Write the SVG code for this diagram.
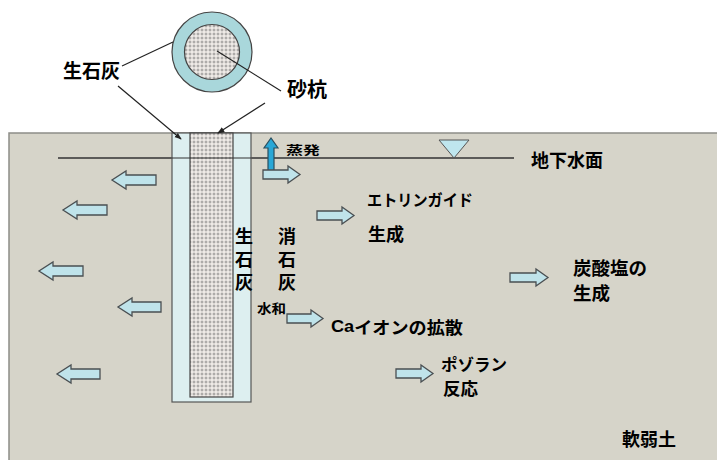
<svg xmlns="http://www.w3.org/2000/svg" width="717" height="460" viewBox="0 0 717 460">
  <style>
    .lbl { font-family: "Noto Sans CJK JP", "Liberation Sans", sans-serif; font-weight: 700; fill: #000; dominant-baseline: central; }
    .vert { font-family: "Noto Sans CJK JP", sans-serif; font-weight: 700; fill: #000; font-size: 18px; writing-mode: vertical-rl; letter-spacing: 5px; }
    .lat { font-family: "Liberation Sans", "Noto Sans CJK JP", sans-serif; }
    .arw { fill: #bfe3ea; stroke: #4a4f52; stroke-width: 1.3; stroke-linejoin: miter; }
    .lead { stroke: #222; stroke-width: 1.2; fill: none; }
  </style>
  <defs>
    <pattern id="sand" width="4" height="4" patternUnits="userSpaceOnUse">
      <rect width="4" height="4" fill="#eeeae6"/>
      <circle cx="2" cy="2" r="1" fill="none" stroke="#6f6f6f" stroke-width="0.6"/>
    </pattern>
    <marker id="tip" viewBox="0 0 8 8" refX="7" refY="4" markerWidth="6" markerHeight="6" orient="auto">
      <path d="M0,1 L8,4 L0,7 Z" fill="#222"/>
    </marker>
  </defs>

  <rect width="717" height="460" fill="#ffffff"/>

  <!-- ground -->
  <g id="ground">
    <rect x="9" y="133" width="712" height="332" fill="#d6d4c9" stroke="#8d8d88" stroke-width="1.5"/>
    <line x1="58" y1="158" x2="514" y2="158" stroke="#333" stroke-width="1.3"/>
    <polygon points="439,140 469,140 454,158" fill="#bfe6ee" stroke="#555" stroke-width="1"/>
    <text class="lbl" x="531" y="159" font-size="18">地下水面</text>
    <text class="lbl" x="622" y="438" font-size="18">軟弱土</text>
  </g>

  <!-- plan view of the pile -->
  <g id="plan">
    <circle cx="212" cy="52" r="40" fill="#a9d7db" stroke="#444" stroke-width="1.2"/>
    <circle cx="212" cy="52" r="27.5" fill="url(#sand)" stroke="#444" stroke-width="1.2"/>
    <text class="lbl" x="63" y="69" font-size="19">生石灰</text>
    <text class="lbl" x="287" y="88" font-size="20">砂杭</text>
  </g>

  <!-- section of the pile -->
  <g id="pile">
    <rect x="172" y="133" width="79" height="269" fill="#ddeff0" stroke="#555" stroke-width="1.2"/>
    <rect x="190" y="133" width="43" height="264" fill="url(#sand)" stroke="#444" stroke-width="1.2"/>
    <line x1="172" y1="158" x2="251" y2="158" stroke="#333" stroke-width="1.2"/>
  </g>

  <g id="labels">
    <text class="lbl" x="286" y="149" font-size="12" textLength="34" lengthAdjust="spacingAndGlyphs">蒸発</text>
    <text class="lbl" x="367" y="199" font-size="16" textLength="106" lengthAdjust="spacingAndGlyphs">エトリンガイド</text>
    <text class="lbl" x="368" y="233" font-size="18">生成</text>
    <text class="vert" x="244" y="227">生石灰</text>
    <text class="vert" x="287" y="227">消石灰</text>
    <text class="lbl" x="257" y="307" font-size="13" textLength="29" lengthAdjust="spacingAndGlyphs">水和</text>
    <text class="lbl" x="331" y="326" font-size="17" textLength="132" lengthAdjust="spacingAndGlyphs"><tspan class="lat">Ca</tspan>イオンの拡散</text>
    <text class="lbl" x="441" y="364" font-size="16.5" textLength="66" lengthAdjust="spacingAndGlyphs">ポゾラン</text>
    <text class="lbl" x="443" y="387" font-size="17.5">反応</text>
    <text class="lbl" x="573" y="267" font-size="18.5">炭酸塩の</text>
    <text class="lbl" x="573" y="292" font-size="18.5">生成</text>
  </g>

  <!-- leaders and flow arrows -->
  <g id="connectors">
    <line class="lead" x1="122" y1="66" x2="173" y2="42"/>
    <line class="lead" x1="217" y1="51" x2="281" y2="91"/>
    <line class="lead" x1="118" y1="86" x2="181" y2="139" marker-end="url(#tip)"/>
    <line class="lead" x1="265" y1="103" x2="218" y2="133" marker-end="url(#tip)"/>

    <!-- evaporation -->
    <path d="M268,172 V148 H264 L271,138 L278,148 H274 V172 Z" fill="#2aa7d6" stroke="#2a4e5e" stroke-width="1.2"/>
    <path class="arw" d="M263,170 H288 V166 L300,174.5 L288,183 V179 H263 Z"/>

    <!-- outward arrows, left side -->
    <path class="arw" d="M156,175 H126 V171 L112,180 L126,189 V185 H156 Z"/>
    <path class="arw" d="M107,205 H77 V201 L63,210 L77,219 V215 H107 Z"/>
    <path class="arw" d="M83,266 H53 V262 L39,271 L53,280 V276 H83 Z"/>
    <path class="arw" d="M161,302 H132 V298 L118,307 L132,316 V312 H161 Z"/>
    <path class="arw" d="M100,369 H71 V365 L57,374 L71,383 V379 H100 Z"/>

    <!-- outward arrows, right side -->
    <path class="arw" d="M317,211 H342 V207 L354,215.5 L342,224 V220 H317 Z"/>
    <path class="arw" d="M287,314 H311 V310 L323,318.5 L311,327 V323 H287 Z"/>
    <path class="arw" d="M396,369 H421 V365 L433,373.5 L421,382 V378 H396 Z"/>
    <path class="arw" d="M510,273 H536 V269 L548,277.5 L536,286 V282 H510 Z"/>
  </g>
</svg>
